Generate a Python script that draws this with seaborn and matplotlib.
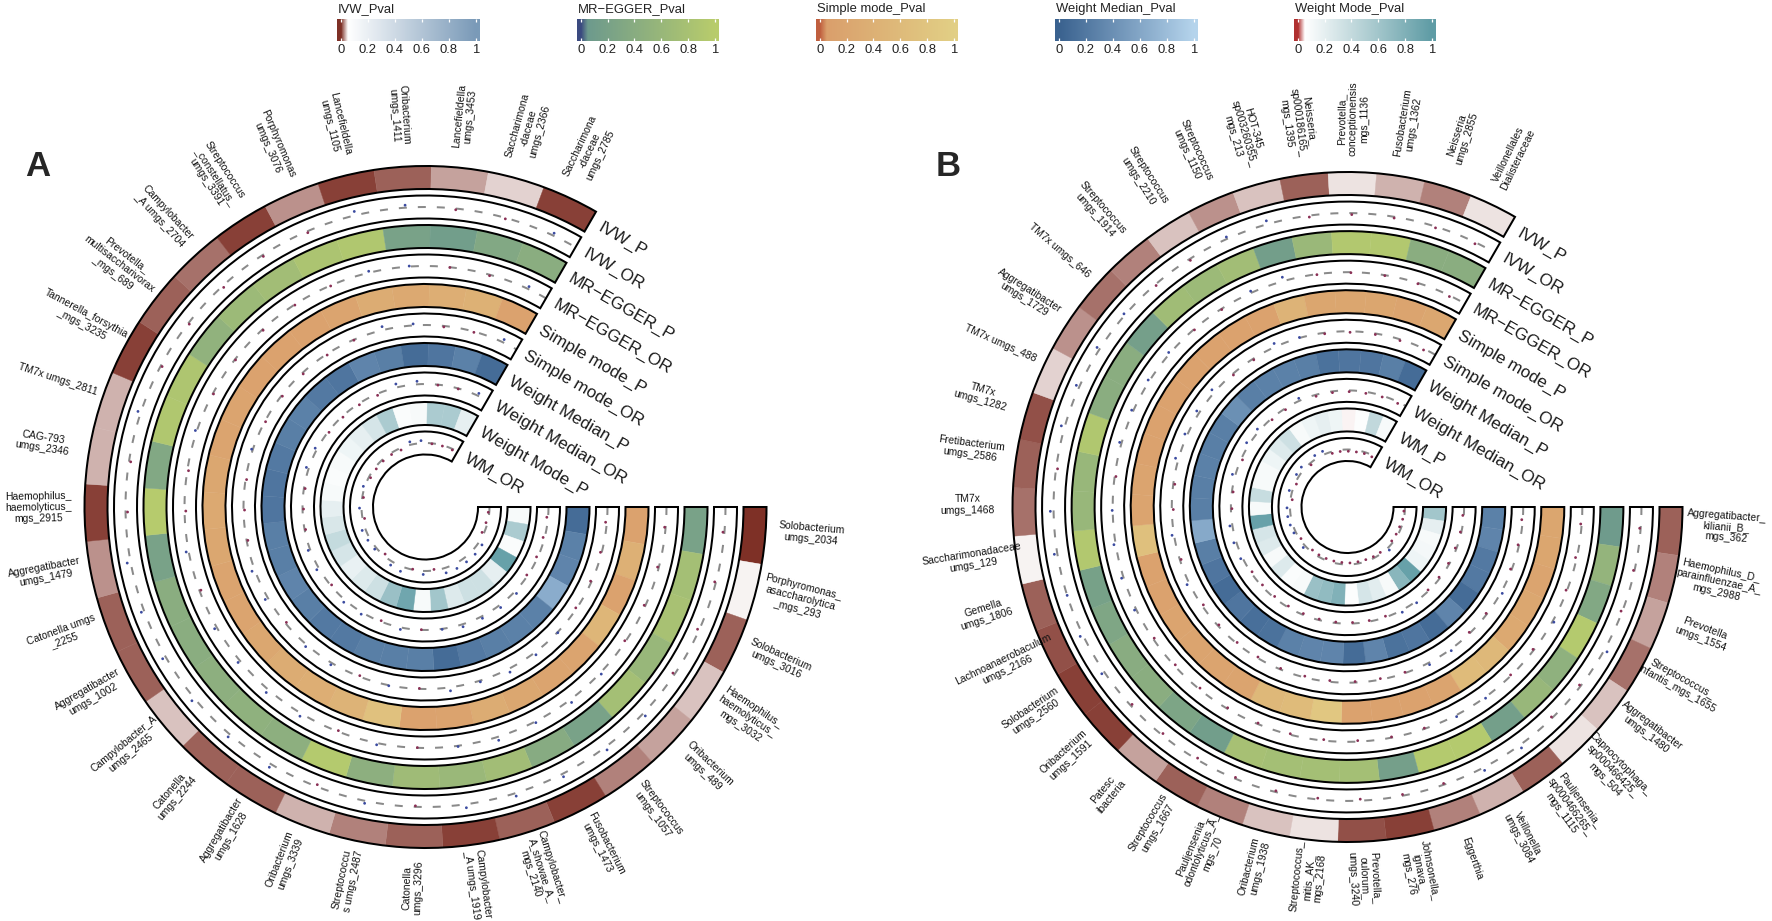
import numpy as np
import pandas as pd
import matplotlib
matplotlib.use("Agg")
import matplotlib.pyplot as plt
from matplotlib.colors import LinearSegmentedColormap
import seaborn as sns

# ---------------------------- data ----------------------------
labels_a = [
    "Solobacterium\numgs_2034", "Porphyromonas_\nasaccharolytica\n_mgs_293", "Solobacterium\numgs_3016",
    "Haemophilus_\nhaemolyticus_\nmgs_3032", "Oribacterium\numgs_489", "Streptococcus\numgs_1057",
    "Fusobacterium\numgs_1473", "Campylobacter_\nA_showae_A_\nmgs_2140", "Campylobacter\n_A umgs_1919",
    "Catonella\numgs_3296", "Streptococcu\ns umgs_2487", "Oribacterium\numgs_3339",
    "Aggregatibacter\numgs_1628", "Catonella\numgs_2244", "Campylobacter_A\numgs_2465",
    "Aggregatibacter\numgs_1002", "Catonella umgs\n_2255", "Aggregatibacter\numgs_1479",
    "Haemophilus_\nhaemolyticus_\nmgs_2915", "CAG-793\numgs_2346", "TM7x umgs_2811",
    "Tannerella_forsythia\n_mgs_3235", "Prevotella_\nmultisaccharivorax\n_mgs_689", "Campylobacter\n_A umgs_2704",
    "Streptococcus\n_constellatus_\numgs_3391", "Porphyromonas\numgs_3076", "Lancefieldella\numgs_1105",
    "Oribacterium\numgs_1411", "Lancefieldella\numgs_3453", "Saccharimona\n-daceae\numgs_2366",
    "Saccharimona\n-daceae\numgs_2785",
]
labels_b = [
    "Aggregatibacter_\nkilianii_B_\nmgs_362", "Haemophilus_D_\nparainfluenzae_A_\nmgs_2988", "Prevotella\numgs_1554",
    "Streptococcus_\ninfantis_mgs_1655", "Aggregatibacter\numgs_1480", "Capnocytophaga_\nsp000466425_\nmgs_504",
    "Pauljensenia_\nsp000466265_\nmgs_1115", "Veillonella\numgs_3084", "Eggerthia",
    "Johnsonella_\nignava_\nmgs_276", "Prevotella_\noulorum_\numgs_3240", "Streptococcus_\nmitis_AK_\nmgs_2168",
    "Oribacterium\numgs_1938", "Pauljensenia_\nodontolyticus_A_\nmgs_70", "Streptococcus\numgs_1667",
    "Patesc\nibacteria", "Oribacterium\numgs_1591", "Solobacterium\numgs_2560",
    "Lachnoanaerobaculum\numgs_2166", "Gemella\numgs_1806", "Saccharimonadaceae\numgs_129",
    "TM7x\numgs_1468", "Fretibacterium\numgs_2586", "TM7x\numgs_1282",
    "TM7x umgs_488", "Aggregatibacter\numgs_1729", "TM7x umgs_646",
    "Streptococcus\numgs_1914", "Streptococcus\numgs_2210", "Streptococcus\numgs_1150",
    "HOT-345_\nsp003260355_\nmgs_213", "Neisseria_\nsp000186165_\nmgs_1395", "Prevotella_\nconceptionensis\nmgs_1136",
    "Fusobacterium\numgs_1362", "Neisseria\numgs_2855", "Veillonellales\nDialisteraceae",
]
tracks_a = ["IVW_P", "IVW_OR", "MR\u2212EGGER_P", "MR\u2212EGGER_OR", "Simple mode_P", "Simple mode_OR",
            "Weight Median_P", "Weight Median_OR", "Weight Mode_P", "WM_OR"]
tracks_b = ["IVW_P", "IVW_OR", "MR\u2212EGGER_P", "MR\u2212EGGER_OR", "Simple mode_P", "Simple mode_OR",
            "Weight Median_P", "Weight Median_OR", "WM_P", "WM_OR"]
legend_titles = ["IVW_Pval", "MR\u2212EGGER_Pval", "Simple mode_Pval", "Weight Median_Pval", "Weight Mode_Pval"]
legend_ticks = [0, 0.2, 0.4, 0.6, 0.8, 1]
legend_ticklabels = ["0", "0.2", "0.4", "0.6", "0.8", "1"]

# panel A, listed clockwise from the horizontal start
a_ivw_p = [.003, .049, .012, .038, .030, .023, .007, .012, .004, .014, .022, .034, .012, .014, .038, .012,
           .012, .027, .007, .033, .035, .004, .012, .018, .005, .024, .004, .012, .030, .042, .005]
a_ivw_or = [.94, .95, .93, .92, 1.13, 1.13, 1.12, 1.12, 1.14, .96, 1.10, .92, 1.14, 1.12, 1.14, 1.14,
            1.12, 1.14, .92, .93, 1.12, .94, .95, .93, .94, .94, 1.16, 1.10, .95, .96, 1.10]
a_egger_p = [.20, .75, .80, .60, .75, .20, .38, .72, .62, .68, .45, .95, .45, .48, .45, .42,
             .42, .20, .97, .32, .90, .87, .50, .65, .72, .85, .90, .20, .12, .32, .42]
a_egger_or = [.96, .95, .95, .96, 1.06, 1.12, 1.05, 1.14, 1.03, .99, 1.07, .96, 1.12, 1.14, 1.10, 1.10,
              .94, 1.10, .95, .95, 1.06, .97, .97, .96, .98, .98, 1.06, 1.02, .99, .96, 1.10]
a_simple_p = [.12, .38, .12, .50, .15, .15, .20, .30, .13, .12, .72, .45, .35, .30, .20, .15,
              .15, .20, .25, .20, .15, .15, .12, .12, .12, .15, .30, .25, .35, .40, .12]
a_simple_or = [.95, .95, .96, .96, 1.02, 1.10, 1.14, 1.05, 1.14, .98, 1.02, .96, 1.08, 1.08, .95, 1.12,
               1.12, .95, .96, .96, 1.05, .97, .96, .95, .96, .98, 1.14, 1.06, .96, .97, 1.12]
a_median_p = [.09, .27, .30, .65, .27, .27, .25, .20, .09, .25, .25, .25, .20, .20, .25, .30,
              .25, .25, .17, .17, .20, .25, .27, .20, .17, .30, .25, .09, .17, .27, .09]
a_median_or = [.95, .94, .95, .96, 1.10, 1.10, 1.08, 1.10, 1.02, .99, 1.08, .96, 1.08, 1.10, .96, 1.10,
               1.08, .96, .96, .95, 1.10, 1.08, .96, .96, .95, .94, 1.14, 1.12, .98, .98, 1.10]
a_mode_p = [.10, .55, .08, .95, .20, .35, .35, .25, .60, .10, .90, .65, .35, .25, .18, .30,
            .40, .28, .20, .10, .08, .10, .15, .20, .30, .55, .08, .10, .55, .55, .20]
a_mode_or = [.96, .94, .92, 1.16, 1.18, 1.18, 1.20, 1.20, .96, 1.14, .98, 1.20, 1.15, .92, 1.08, 1.10,
             1.14, .92, 1.08, .95, 1.06, .93, .93, .94, .94, .92, 1.12, 1.10, .98, .97, .96]

# panel B, listed clockwise from the horizontal start
b_ivw_p = [.012, .020, .030, .018, .036, .043, .012, .035, .020, .004, .011, .046, .038, .022, .015, .030, .005, .006,
           .011, .014, .050, .016, .014, .011, .040, .024, .018, .020, .038, .024, .037, .012, .044, .034, .020, .043]
b_ivw_or = [.96, .96, .95, 1.13, .94, .95, 1.13, 1.12, .95, .95, .94, .95, .95, .95, .94, .93, .93, 1.12,
            1.12, 1.00, 1.12, 1.13, .94, 1.14, 1.13, 1.12, 1.06, .95, .94, 1.08, 1.14, .94, .94, .95, .95, .94]
b_egger_p = [.08, .55, .32, .95, .48, .60, .14, .95, .95, .15, .75, .75, .75, .78, .12, .25, .42, .40,
             .28, .18, .92, .60, .60, .90, .42, .42, .15, .70, .65, .72, .13, .62, .92, .92, .42, .42]
b_egger_or = [.96, .95, .96, 1.06, .96, .97, 1.04, 1.06, .97, .97, .96, .96, .96, .96, .96, .95, .95, .95,
              1.07, 1.08, 1.07, 1.02, .95, 1.08, 1.07, 1.06, 1.06, .97, .97, 1.07, 1.16, .98, .98, .98, .97, .96]
b_simple_p = [.18, .18, .15, .20, .25, .55, .60, .15, .12, .12, .12, .85, .60, .55, .15, .15, .15, .15,
              .12, .12, .70, .15, .15, .12, .12, .12, .12, .12, .12, .12, .45, .18, .18, .18, .15, .20]
b_simple_or = [.96, .96, .95, 1.06, .96, .96, 1.06, 1.08, .97, .96, .96, .95, .95, .96, .96, .96, .95, .94,
               1.10, .95, 1.08, .94, .94, 1.12, 1.10, 1.12, 1.14, .95, .95, 1.14, 1.02, .96, .96, .96, .95, .95]
b_median_p = [.27, .30, .20, .20, .09, .30, .09, .17, .14, .30, .09, .30, .30, .27, .14, .12, .17, .09,
              .17, .25, .62, .25, .25, .27, .25, .25, .40, .25, .27, .27, .25, .14, .17, .17, .25, .09]
b_median_or = [.96, .96, .95, .96, .95, .96, 1.06, 1.08, .96, .96, .96, .96, .96, .95, .95, .95, .95, .95,
               1.08, 1.10, 1.10, .96, .95, 1.12, .94, 1.12, 1.10, .95, .95, 1.10, .94, .95, .95, .94, .95, .94]
b_mode_p = [.60, .20, .10, .12, .15, .95, .75, .10, .22, .30, .07, .80, .70, .65, .10, .08, .25, .10,
            .25, .30, .95, .10, .38, .10, .10, .15, .25, .35, .10, .15, .20, .15, .05, .07, .42, .10]
b_mode_or = [.96, .96, .93, .93, .93, 1.10, .94, .94, .93, .93, .94, .93, .93, .93, .93, .92, 1.10, .95,
             1.08, 1.10, 1.12, 1.12, .93, 1.12, .94, 1.12, 1.14, .93, 1.14, 1.14, .93, .94, .93, .93, .94, .93]

panel_a_tracks = [a_ivw_p, a_ivw_or, a_egger_p, a_egger_or, a_simple_p, a_simple_or,
                  a_median_p, a_median_or, a_mode_p, a_mode_or]
panel_b_tracks = [b_ivw_p, b_ivw_or, b_egger_p, b_egger_or, b_simple_p, b_simple_or,
                  b_median_p, b_median_or, b_mode_p, b_mode_or]

# ---------------------------- style ----------------------------
W, H = 1772, 921
sns.set_theme(style="white")
plt.rcParams["font.family"] = ["Liberation Sans", "DejaVu Sans"]

cmaps = [
    LinearSegmentedColormap.from_list("ivw", [(0, "#7e3026"), (.05, "#ffffff"), (1, "#7a9ab8")]),
    LinearSegmentedColormap.from_list("egger", [(0, "#3b4a80"), (.05, "#6d9a8d"), (1, "#b8cc6c")]),
    LinearSegmentedColormap.from_list("simple", [(0, "#c05f3f"), (.05, "#da9f6c"), (1, "#e2cf85")]),
    LinearSegmentedColormap.from_list("median", [(0, "#3a628f"), (1, "#b5d4ec")]),
    LinearSegmentedColormap.from_list("mode", [(0, "#b03030"), (.05, "#ffffff"), (1, "#5f9ca5")]),
]
dot_palette = {"up": "#3b4ba0", "down": "#8a2f55"}
SWEEP = np.deg2rad(300.0)
RING_W, LW = 23.0, 1.45


def px_rect(x0, y0, x1, y1):
    return [x0 / W, 1 - y1 / H, (x1 - x0) / W, (y1 - y0) / H]


def draw_panel(fig, cx, cy, r_in, r_out, labels, tracks, track_names, label_r, lift, letter):
    pad = r_out + 95
    ax = fig.add_axes(px_rect(cx - pad, cy - pad, cx + pad, cy + pad), projection="polar")
    ax.set_theta_zero_location("E")
    ax.set_theta_direction(-1)
    ax.patch.set_alpha(0)
    n = len(labels)
    dth = SWEEP / n
    theta = (np.arange(n) + .5) * dth
    step = (r_out - RING_W - r_in) / 9.0
    arc = np.linspace(0, SWEEP, 800)
    for i, (name, vals) in enumerate(zip(track_names, tracks)):
        base = r_in + (9 - i) * step
        mid = base + RING_W / 2
        if i % 2 == 0:
            cols = [cmaps[i // 2](v) for v in vals]
            ax.bar(theta, RING_W, width=dth, bottom=base, color=cols, edgecolor=cols, linewidth=.3, zorder=1)
        else:
            ax.plot(arc, np.full_like(arc, mid), color="#8a8a8a", lw=1.45,
                    ls=(0, (8 * .72 / 1.45, 11 * .72 / 1.45)), zorder=2)
            df = pd.DataFrame({"theta": theta, "r": mid + (np.array(vals) - 1) * 25,
                               "direction": ["up" if v >= 1 else "down" for v in vals]})
            sns.scatterplot(data=df, x="theta", y="r", hue="direction", palette=dot_palette, s=4,
                            linewidth=0, legend=False, ax=ax, zorder=3)
        ax.bar(SWEEP / 2, RING_W, width=SWEEP, bottom=base, fill=False, edgecolor="black", linewidth=LW, zorder=4)
        ax.annotate(name, xy=(SWEEP + 10 / mid, mid), ha="left", va="center", rotation=-30,
                    rotation_mode="anchor", fontsize=12.3, color="#1a1a1a", annotation_clip=False)
    for t, lab in zip(theta, labels):
        deg = np.rad2deg(t)
        rot = 180 - deg if 90 < deg < 270 else -deg
        ax.annotate(lab, xy=(t, label_r), xytext=(0, lift * .72), textcoords="offset points",
                    ha="center", va="center", ma="center", rotation=rot, rotation_mode="anchor",
                    fontsize=7.5, linespacing=1.15, color="#111111", annotation_clip=False)
    ax.set_xlim(0, 2 * np.pi)
    ax.set_ylim(0, pad)
    ax.set_xlabel("")
    ax.set_ylabel("")
    ax.set_axis_off()
    fig.text(letter[1] / W, 1 - 167 / H, letter[0], fontsize=25, fontweight="bold", ha="center", va="center")


def draw_legend(fig, x0, x1, title, cmap):
    ax = fig.add_axes(px_rect(x0, 19, x1, 41))
    lo, hi = -0.028, 1.03
    grad = np.linspace(lo, hi, 400).clip(0, 1).reshape(1, -1)
    ax.imshow(grad, cmap=cmap, vmin=0, vmax=1, extent=[lo, hi, 0, 1], aspect="auto")
    ax.set_yticks([])
    ax.set_xticks(legend_ticks)
    ax.set_xticklabels(legend_ticklabels, fontsize=9.4, color="#222222")
    ax.tick_params(axis="x", direction="in", length=2.5, width=.9, color="white", top=True, bottom=True, pad=2.5)
    for s in ax.spines.values():
        s.set_visible(False)
    fig.text((x0 + 1) / W, 1 - 9 / H, title, fontsize=9.4, color="#222222", ha="left", va="center")


fig = plt.figure(figsize=(W / 100, H / 100), dpi=100, facecolor="white")
draw_panel(fig, 425.5, 507, 52.5, 341, labels_a, panel_a_tracks, tracks_a, 387, 6, ("A", 38))
draw_panel(fig, 1347.5, 507, 46, 335, labels_b, panel_b_tracks, tracks_b, 380, 8, ("B", 948))
for (x0, x1), title, cmap in zip([(337, 480), (577, 719), (816, 958), (1055, 1198), (1294, 1436)], legend_titles, cmaps):
    draw_legend(fig, x0, x1, title, cmap)
fig.savefig("out.png", dpi=100, facecolor="white")
